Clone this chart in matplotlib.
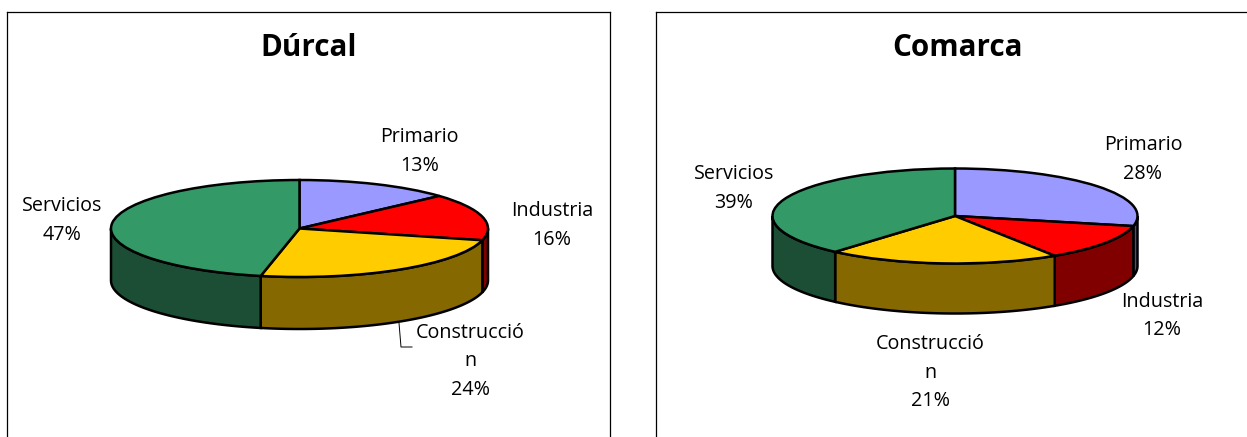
import numpy as np
import matplotlib
matplotlib.use("Agg")
import matplotlib.pyplot as plt

W, H = 1247, 437

sectors = ["Primario", "Industria", "Construcció\nn", "Servicios"]
# the labels show them rounded
durcal_values = [13.3, 15.6, 24.4, 46.7]
comarca_values = [28.4, 12.4, 20.6, 38.6]
top_colors = ["#9999ff", "#ff0000", "#ffcc00", "#339966"]
side_colors = ["#4d4d80", "#800000", "#856800", "#1b4e34"]

plt.rcParams['font.family'] = ['Open Sans', 'DejaVu Sans']


def px(x, y):
    # image pixels to figure fraction
    return x / W, 1 - y / H


def draw_panel(fig, box, pie, title, values, label_pos, title_pos):
    x0, x1, y0, y1 = box
    cx, cy, rx, ry, wall = pie
    ax = fig.add_axes([x0 / W, 1 - y1 / H, (x1 - x0) / W, (y1 - y0) / H])
    ax.pie(values, colors=top_colors, startangle=90, counterclock=False, radius=1,
           wedgeprops={"linewidth": 1.8, "edgecolor": "black"})
    ax.set_aspect("auto")
    ax.set_frame_on(True)
    ax.set_xlim((x0 - cx) / rx, (x1 - cx) / rx)
    ax.set_ylim((cy - y1) / ry, (cy - y0) / ry)
    ax.set_xticks([])
    ax.set_yticks([])
    ax.spines["bottom"].set_visible(False)
    if x1 >= W:
        ax.spines["right"].set_visible(False)
    for s in ax.spines.values():
        s.set_linewidth(0.9)

    # side wall, only the front half of the pie can be seen
    edges = np.concatenate([[0], np.cumsum(values)]) * 3.6
    depth = wall / ry
    for i in range(len(values)):
        a0 = max(edges[i], 90)
        a1 = min(edges[i + 1], 270)
        if a1 <= a0:
            continue
        a = np.radians(np.linspace(a0, a1, 80))
        xs = np.sin(a)
        ys = np.cos(a)
        ax.fill(np.concatenate([xs, xs[::-1]]), np.concatenate([ys, ys[::-1] - depth]),
                facecolor=side_colors[i], edgecolor="black", linewidth=1.8, zorder=0.5)

    fig.text(*px(*title_pos), title, ha="center", va="center", fontsize=21.3, fontweight="bold")
    for name, val, pos in zip(sectors, values, label_pos):
        fig.text(*px(*pos), f"{name}\n{val:.0f}%", ha="center", va="center",
                 fontsize=14.2, linespacing=1.56, color="black")
    return ax


fig = plt.figure(figsize=(W / 100, H / 100), dpi=100, facecolor="white")

draw_panel(fig, (7, 610, 12, 440), (299.5, 228.5, 188.5, 48.5, 52), "Dúrcal", durcal_values,
           [(419.5, 151.5), (552, 225.5), (470, 361.5), (62, 220.5)], (309, 48.5))
draw_panel(fig, (656, 1250, 12, 440), (955, 216, 182.5, 47.5, 50), "Comarca", comarca_values,
           [(1143, 159.5), (1162, 316), (930, 372.5), (734, 188.5)], (957, 48.5))

# leader line of the Construcción label in the first panel
leader_x = [399 / W, 401 / W, 412 / W]
leader_y = [1 - 323 / H, 1 - 347 / H, 1 - 347 / H]
fig.add_artist(plt.Line2D(leader_x, leader_y, color="black", linewidth=0.7))

fig.savefig("out.png", dpi=100)
